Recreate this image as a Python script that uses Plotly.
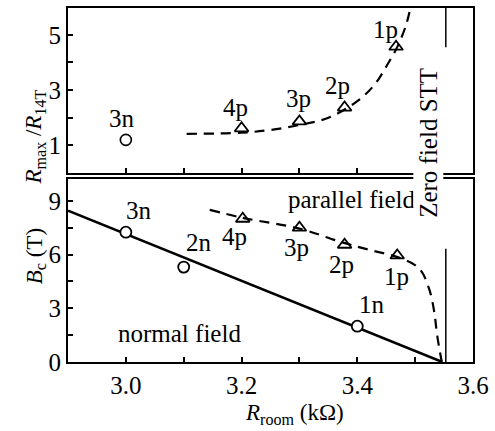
import plotly.graph_objects as go

FONT = "Liberation Serif, Times New Roman, serif"

# ---- top panel: R_max / R_14T ----
top_n_x = [3.0]
top_n_y = [1.2]
top_n_lbl = ["3n"]
top_p_x = [3.2, 3.3, 3.378, 3.467]
top_p_y = [1.62, 1.87, 2.37, 4.57]
top_p_lbl = ["4p", "3p", "2p", "1p"]
top_curve_x = [3.105, 3.2, 3.25, 3.3, 3.35, 3.4, 3.43, 3.45, 3.47, 3.485, 3.492]
top_curve_y = [1.42, 1.46, 1.56, 1.74, 2.0, 2.6, 3.2, 3.85, 4.6, 5.4, 6.0]

# ---- bottom panel: B_c ----
bot_n_x = [3.0, 3.1, 3.4]
bot_n_y = [7.25, 5.3, 2.0]
bot_n_lbl = ["3n", "2n", "1n"]
bot_p_x = [3.202, 3.3, 3.378, 3.469]
bot_p_y = [8.0, 7.5, 6.55, 5.95]
bot_p_lbl = ["4p", "3p", "2p", "1p"]
bot_line_x = [2.9, 3.547]
bot_line_y = [8.45, 0.0]
bot_curve_x = [3.145, 3.202, 3.3, 3.374, 3.426, 3.472, 3.507, 3.524, 3.533, 3.538, 3.546]
bot_curve_y = [8.5, 8.05, 7.45, 6.68, 6.22, 5.83, 5.22, 4.1, 2.8, 1.5, 0.0]

stt_x = 3.553

fig = go.Figure()

# top panel (xaxis2 / yaxis2)
fig.add_trace(go.Scatter(x=top_curve_x, y=top_curve_y, mode="lines", line=dict(color="black", width=2.2, dash="10px,7px", shape="spline"), xaxis="x2", yaxis="y2"))
fig.add_trace(go.Scatter(x=top_n_x, y=top_n_y, mode="markers", marker=dict(symbol="circle-open", size=11, color="black", line=dict(width=1.6)), xaxis="x2", yaxis="y2"))
fig.add_trace(go.Scatter(x=top_p_x, y=top_p_y, mode="markers", marker=dict(symbol="triangle-up-open", size=12, color="black", line=dict(width=1.8)), xaxis="x2", yaxis="y2"))

# bottom panel
fig.add_trace(go.Scatter(x=bot_line_x, y=bot_line_y, mode="lines", line=dict(color="black", width=2.6)))
fig.add_trace(go.Scatter(x=bot_curve_x, y=bot_curve_y, mode="lines", line=dict(color="black", width=2.2, dash="10px,7px", shape="spline")))
fig.add_trace(go.Scatter(x=bot_n_x, y=bot_n_y, mode="markers", marker=dict(symbol="circle", size=11, color="white", line=dict(width=1.8, color="black"))))
fig.add_trace(go.Scatter(x=bot_p_x, y=bot_p_y, mode="markers", marker=dict(symbol="triangle-up-open", size=12, color="black", line=dict(width=1.8))))

ax_common = dict(showline=True, linecolor="black", linewidth=2, mirror=True, ticks="inside",
                 ticklen=5, tickwidth=1.5, tickcolor="black", showgrid=False, zeroline=False,
                 tickfont=dict(family=FONT, size=25, color="black"))

fig.update_layout(
    width=495, height=431, margin=dict(l=68, r=22, t=6, b=69),
    paper_bgcolor="white", plot_bgcolor="white", showlegend=False,
    xaxis=dict(ax_common, range=[2.9, 3.6], tickvals=[2.9, 3.0, 3.1, 3.2, 3.3, 3.4, 3.5, 3.6],
               ticktext=["", "3.0", "", "3.2", "", "3.4", "", "3.6"], anchor="y", domain=[0, 1]),
    yaxis=dict(ax_common, range=[0, 10.22], tickvals=[0, 1.5, 3, 4.5, 6, 7.5, 9],
               ticktext=["0", "", "3", "", "6", "", "9"], domain=[0, 0.5169]),
    xaxis2=dict(ax_common, range=[2.9, 3.6], tickvals=[2.9, 3.0, 3.1, 3.2, 3.3, 3.4, 3.5, 3.6],
                showticklabels=False, anchor="y2", matches="x", domain=[0, 1]),
    yaxis2=dict(ax_common, range=[0, 5.97], tickvals=[1, 2, 3, 4, 5],
                ticktext=["1", "", "3", "", "5"], domain=[0.5337, 1], anchor="x2"),
)

lblfont = dict(family=FONT, size=25, color="black")
titlefont = dict(family=FONT, size=23, color="black")
ann = []
top_lbl_pos = [(2.993, 1.98)]
for (lx, ly), t in zip(top_lbl_pos, top_n_lbl):
    ann.append(dict(x=lx, y=ly, xref="x2", yref="y2", text=t, showarrow=False, font=lblfont))
top_p_pos = [(3.19, 2.37), (3.298, 2.7), (3.366, 3.17), (3.448, 5.18)]
for (lx, ly), t in zip(top_p_pos, top_p_lbl):
    ann.append(dict(x=lx, y=ly, xref="x2", yref="y2", text=t, showarrow=False, font=lblfont))
bot_n_pos = [(3.022, 8.44), (3.126, 6.67), (3.426, 3.2)]
for (lx, ly), t in zip(bot_n_pos, bot_n_lbl):
    ann.append(dict(x=lx, y=ly, xref="x", yref="y", text=t, showarrow=False, font=lblfont))
bot_p_pos = [(3.188, 7.0), (3.295, 6.39), (3.372, 5.45), (3.467, 4.8)]
for (lx, ly), t in zip(bot_p_pos, bot_p_lbl):
    ann.append(dict(x=lx, y=ly, xref="x", yref="y", text=t, showarrow=False, font=lblfont))

ann.append(dict(x=3.391, y=9.05, xref="x", yref="y", text="parallel field", showarrow=False, font=lblfont))
ann.append(dict(x=3.093, y=1.6, xref="x", yref="y", text="normal field", showarrow=False, font=lblfont))

# Zero field STT
ann.append(dict(x=0.928, y=0.62, xref="paper", yref="paper", text="Zero field STT", textangle=-90,
                showarrow=False, font=lblfont, bgcolor="white", borderpad=1))

# axis titles
ann.append(dict(x=-0.12, y=0.775, xref="paper", yref="paper",
                text="<i>R</i><sub>max</sub> /<i>R</i><sub>14T</sub>", textangle=-90,
                showarrow=False, font=titlefont))
ann.append(dict(x=-0.12, y=0.215, xref="paper", yref="paper",
                text="<i>B</i><sub>c</sub> (T)", textangle=-90, showarrow=False, font=titlefont))
ann.append(dict(x=0.56, y=-0.147, xref="paper", yref="paper",
                text="<i>R</i><sub>room</sub> (kΩ)", showarrow=False, font=titlefont, yanchor="middle"))

fig.update_layout(annotations=ann)

fig.add_shape(type="line", x0=stt_x, x1=stt_x, y0=4.55, y1=5.97, xref="x2", yref="y2", line=dict(color="black", width=1.5))
fig.add_shape(type="line", x0=stt_x, x1=stt_x, y0=0, y1=6.33, xref="x", yref="y", line=dict(color="black", width=1.5))

fig.write_html("out.html")
